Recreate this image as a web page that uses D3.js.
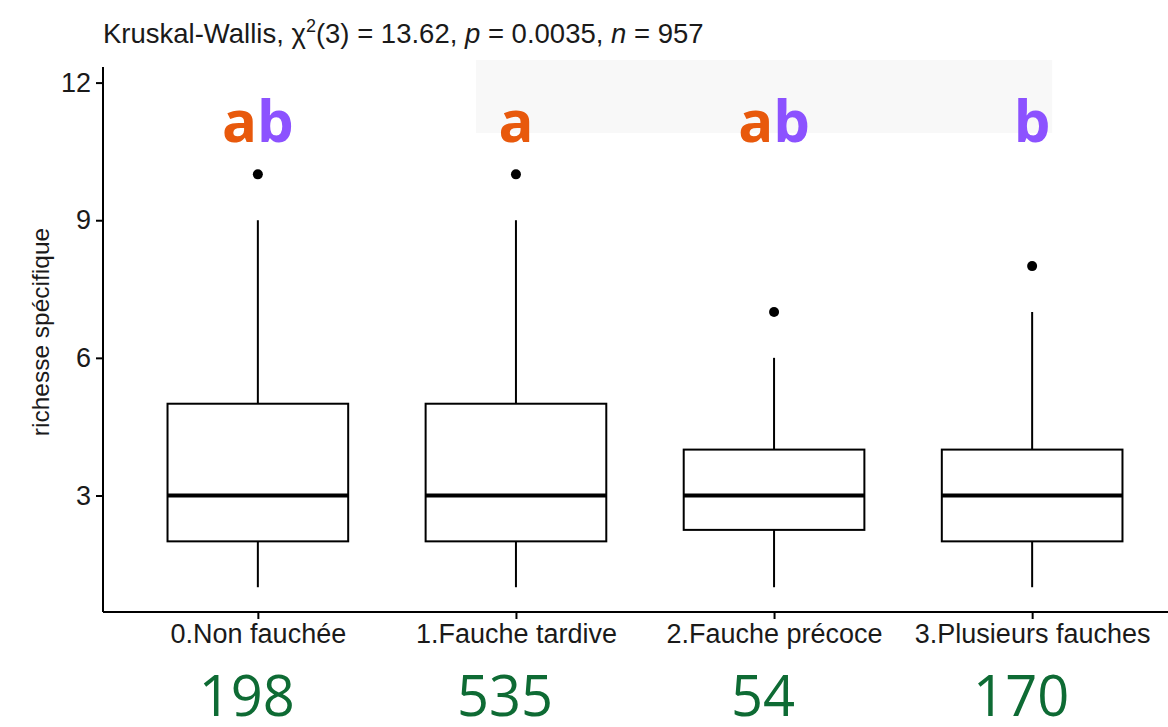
<!DOCTYPE html>
<html>
<head>
<meta charset="utf-8">
<script src="https://cdn.jsdelivr.net/npm/d3@7"></script>
<style>
  body { margin: 0; background: #fff; }
  svg { display: block; }
</style>
</head>
<body>
<svg width="1168" height="727"></svg>
<script>
// categories and box stats
var categories = ["0.Non fauchée", "1.Fauche tardive", "2.Fauche précoce", "3.Plusieurs fauches"];
var lowWhisker = [1, 1, 1, 1];
var q1 = [2, 2, 2.25, 2];
var median = [3, 3, 3, 3];
var q3 = [5, 5, 4, 4];
var highWhisker = [9, 9, 6, 7];
var outliers = [[10], [10], [7], [8]];
var groupLetters = [["a", "b"], ["a"], ["a", "b"], ["b"]];
var counts = [198, 535, 54, 170];
var yTicks = [3, 6, 9, 12];

var letterColor = { a: "#e8590c", b: "#8c52ff" };

var svg = d3.select("svg");
var sans = "'Liberation Sans', Arial, Helvetica, sans-serif";

var x = d3.scalePoint().domain(categories).range([103, 1187]).padding(0.6);
var y = d3.scaleLinear().domain([0.46, 12.34]).range([612, 67]);
var boxW = x.step() * 0.7;

// faint grey patch behind the letters
svg.append("rect")
    .attr("x", x(categories[1]) - 40).attr("y", 60)
    .attr("width", x(categories[3]) + 20 - (x(categories[1]) - 40))
    .attr("height", 73)
    .attr("fill", "#f8f8f8");

// axes
var yAxis = svg.append("g")
    .attr("transform", "translate(103,0)")
    .call(d3.axisLeft(y).tickValues(yTicks).tickSize(7).tickPadding(5));
var xAxis = svg.append("g")
    .attr("transform", "translate(0,612)")
    .call(d3.axisBottom(x).tickSize(7).tickPadding(6));

[yAxis, xAxis].forEach(function (a) {
  a.select(".domain").attr("stroke", "#000").attr("stroke-width", 2);
  a.selectAll(".tick line").attr("stroke", "#000").attr("stroke-width", 2);
  a.selectAll(".tick text").attr("fill", "#1a1a1a").style("font-family", sans).style("font-size", "27px");
});
xAxis.selectAll(".tick text").attr("dy", null).attr("y", 31);
xAxis.select(".domain").attr("d", "M103,0H1168");
yAxis.select(".domain").attr("d", "M0,612V67");

// boxes
var idx = d3.range(categories.length);
var box = svg.append("g").selectAll("g").data(idx).join("g");

box.append("line")
    .attr("x1", function (i) { return x(categories[i]); })
    .attr("x2", function (i) { return x(categories[i]); })
    .attr("y1", function (i) { return y(q3[i]); })
    .attr("y2", function (i) { return y(highWhisker[i]); })
    .attr("stroke", "#000").attr("stroke-width", 2);
box.append("line")
    .attr("x1", function (i) { return x(categories[i]); })
    .attr("x2", function (i) { return x(categories[i]); })
    .attr("y1", function (i) { return y(q1[i]); })
    .attr("y2", function (i) { return y(lowWhisker[i]); })
    .attr("stroke", "#000").attr("stroke-width", 2);
box.append("rect")
    .attr("x", function (i) { return x(categories[i]) - boxW / 2; })
    .attr("y", function (i) { return y(q3[i]); })
    .attr("width", boxW)
    .attr("height", function (i) { return y(q1[i]) - y(q3[i]); })
    .attr("fill", "#fff").attr("stroke", "#000").attr("stroke-width", 2);
box.append("line")
    .attr("x1", function (i) { return x(categories[i]) - boxW / 2; })
    .attr("x2", function (i) { return x(categories[i]) + boxW / 2; })
    .attr("y1", function (i) { return y(median[i]); })
    .attr("y2", function (i) { return y(median[i]); })
    .attr("stroke", "#000").attr("stroke-width", 4);
box.selectAll("circle")
    .data(function (i) { return outliers[i].map(function (v) { return [i, v]; }); })
    .join("circle")
    .attr("cx", function (d) { return x(categories[d[0]]); })
    .attr("cy", function (d) { return y(d[1]); })
    .attr("r", 5).attr("fill", "#000");

// significance letters
svg.append("g").selectAll("text").data(idx).join("text")
    .attr("x", function (i) { return x(categories[i]); })
    .attr("y", 142)
    .attr("text-anchor", "middle")
    .style("font-family", "'Open Sans', sans-serif")
    .style("font-weight", 700)
    .style("font-size", "58px")
    .selectAll("tspan")
    .data(function (i) { return groupLetters[i]; })
    .join("tspan")
    .attr("fill", function (l) { return letterColor[l]; })
    .text(function (l) { return l; });

// sample sizes
svg.append("g").selectAll("text").data(idx).join("text")
    .attr("x", function (i) { return x(categories[i]) - 11; })
    .attr("y", 716)
    .attr("text-anchor", "middle")
    .attr("fill", "#0e6b34")
    .style("font-family", "'Open Sans', sans-serif")
    .style("font-size", "56px")
    .text(function (i) { return counts[i]; });

// y title
svg.append("text")
    .attr("transform", "translate(49,332) rotate(-90)")
    .attr("text-anchor", "middle")
    .attr("fill", "#1a1a1a")
    .style("font-family", sans)
    .style("font-size", "24.5px")
    .text("richesse spécifique");

// subtitle with test result
var t = svg.append("text")
    .attr("x", 103).attr("y", 43)
    .attr("fill", "#1a1a1a")
    .style("font-family", sans)
    .style("font-size", "27.5px");
t.append("tspan").text("Kruskal-Wallis, χ");
t.append("tspan").attr("dy", -11).style("font-size", "18px").text("2");
t.append("tspan").attr("dy", 11).text("(3) = 13.62, ");
t.append("tspan").style("font-style", "italic").text("p");
t.append("tspan").text(" = 0.0035, ");
t.append("tspan").style("font-style", "italic").text("n");
t.append("tspan").text(" = 957");
</script>
</body>
</html>
